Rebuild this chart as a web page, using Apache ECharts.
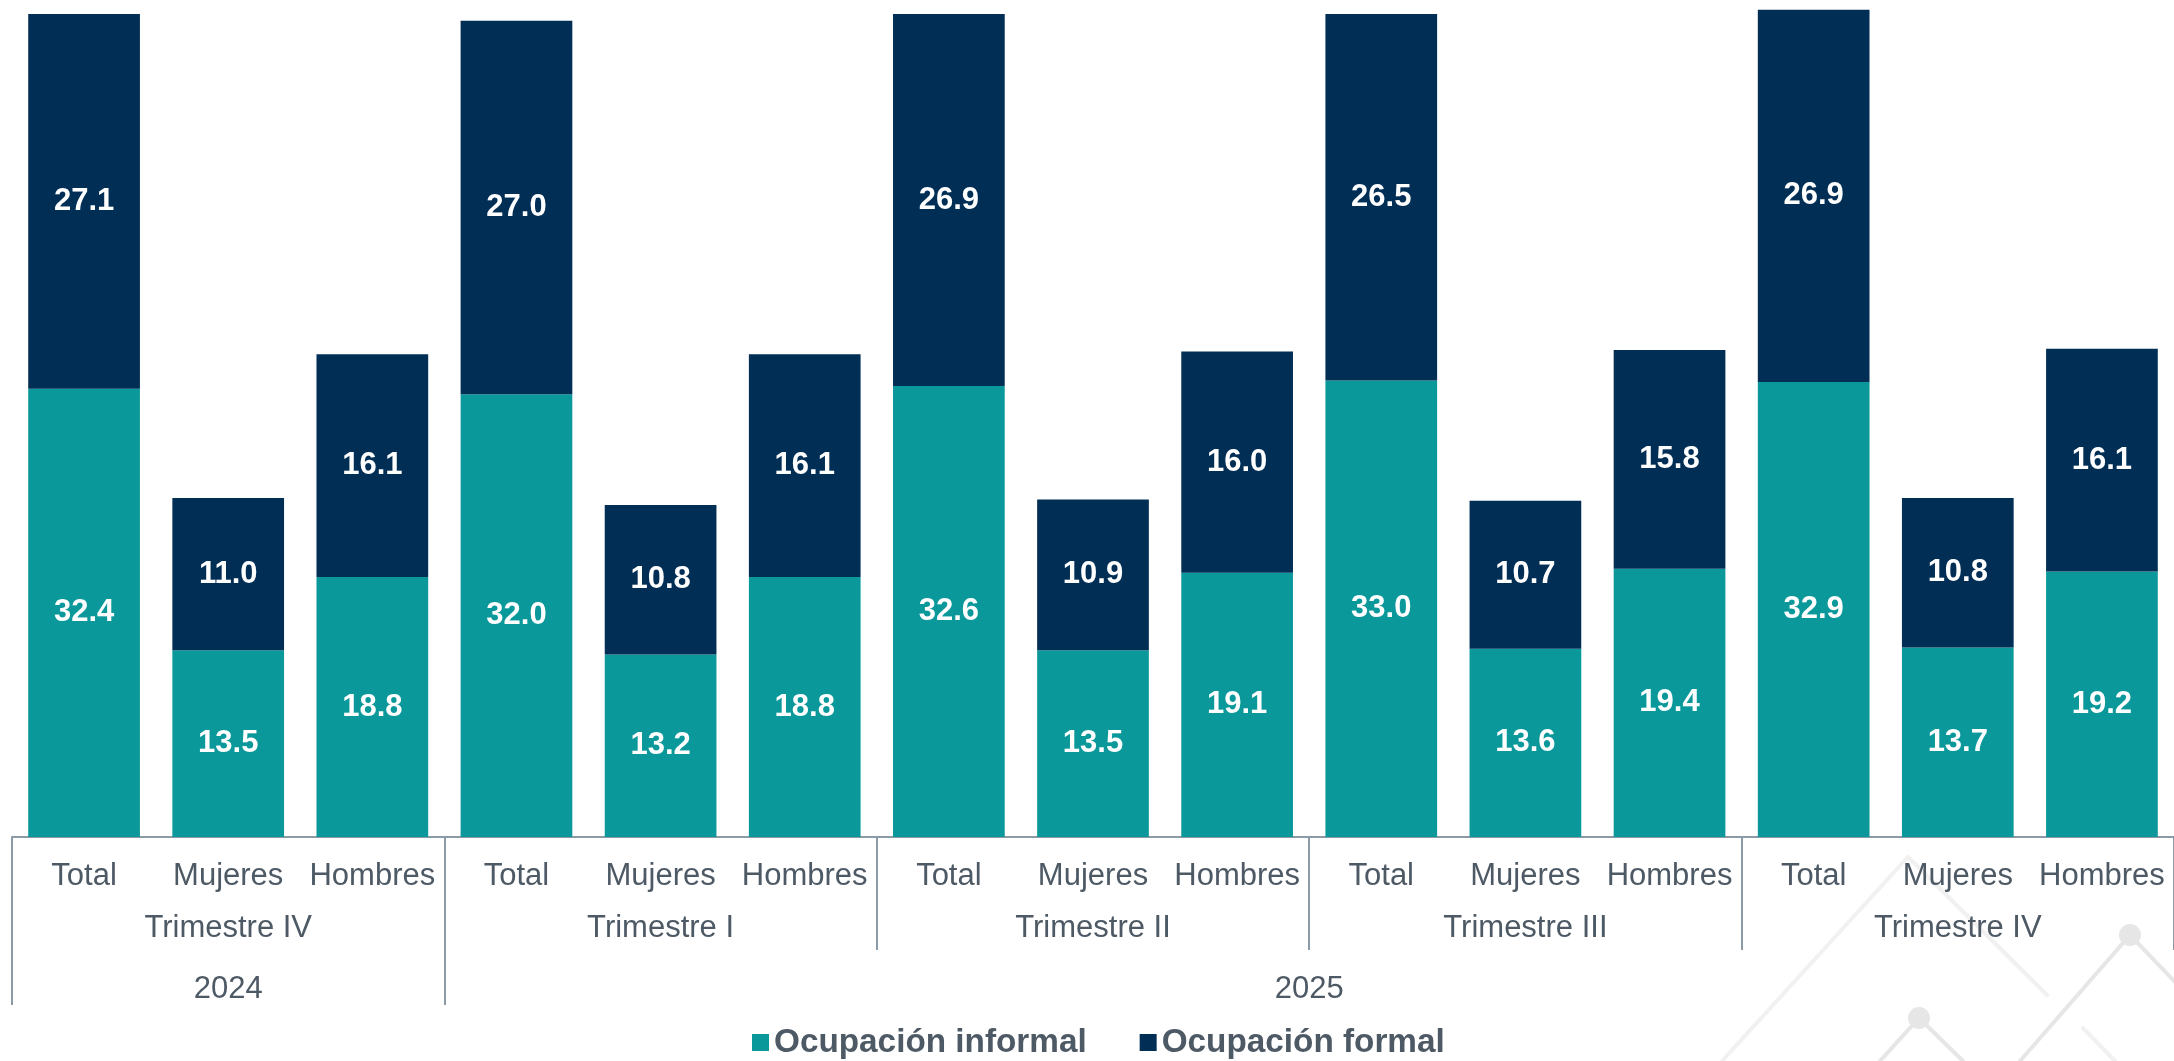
<!DOCTYPE html>
<html>
<head>
<meta charset="utf-8">
<script src="https://cdn.jsdelivr.net/npm/echarts@6/dist/echarts.min.js"></script>
<style>
html,body{margin:0;padding:0;background:#fff;}
#chart{width:2174px;height:1061px;}
</style>
</head>
<body>
<div id="chart"></div>
<script>
// ---- Data ----
const categories = ['Total','Mujeres','Hombres','Total','Mujeres','Hombres','Total','Mujeres','Hombres','Total','Mujeres','Hombres','Total','Mujeres','Hombres'];
const quarters = ['Trimestre IV','Trimestre I','Trimestre II','Trimestre III','Trimestre IV'];
const years = ['2024','2025'];
const yearCenters = [1.5, 9];     // in category units (0..15)
const yearBounds = [0, 3];        // group dividers for years
const informal = [32.4,13.5,18.8, 32.0,13.2,18.8, 32.6,13.5,19.1, 33.0,13.6,19.4, 32.9,13.7,19.2];
const formal   = [27.1,11.0,16.1, 27.0,10.8,16.1, 26.9,10.9,16.0, 26.5,10.7,15.8, 26.9,10.8,16.1];
const seriesNames = ['Ocupación informal','Ocupación formal'];

const FONT = '"Liberation Sans", Arial, sans-serif';
const TXT = '#4d5964';
const AX = '#8c9aa6';
const TEAL = '#0a989a';
const NAVY = '#002e55';

const chart = echarts.init(document.getElementById('chart'));

const wmFaint = '#f1f1f1', wmMid = '#e6e6e6';
const graphic = [
  {type:'polyline', z:-10, silent:true, shape:{points:[[1722,1061],[1908,857],[2047,995]]}, style:{stroke:wmFaint, lineWidth:4, fill:null, lineCap:'round'}},
  {type:'polyline', z:-10, silent:true, shape:{points:[[1880,1061],[1919,1018],[1963,1061]]}, style:{stroke:wmMid, lineWidth:4, fill:null, lineCap:'round'}},
  {type:'circle', z:-10, silent:true, shape:{cx:1919, cy:1018, r:11}, style:{fill:wmMid}},
  {type:'polyline', z:-10, silent:true, shape:{points:[[2020,1061],[2130,935],[2176,983]]}, style:{stroke:wmMid, lineWidth:4, fill:null, lineCap:'round'}},
  {type:'circle', z:-10, silent:true, shape:{cx:2130, cy:935, r:11}, style:{fill:wmMid}},
  {type:'polyline', z:-10, silent:true, shape:{points:[[2083,1028],[2115,1061]]}, style:{stroke:wmFaint, lineWidth:4, fill:null, lineCap:'round'}}
];

const option = {
  animation: false,
  backgroundColor: '#ffffff',
  textStyle: { fontFamily: FONT },
  graphic: graphic,
  legend: {
    data: seriesNames,
    top: 1021,
    left: 747,
    icon: 'rect',
    itemWidth: 17,
    itemHeight: 17,
    itemGap: 53,
    textStyle: { fontFamily: FONT, fontSize: 33.3, fontWeight: 'bold', color: TXT }
  },
  grid: { left: 12, top: 7, width: 2169, height: 830, containLabel: false },
  xAxis: [
    {
      type: 'category',
      data: categories,
      axisLine: { show: true, lineStyle: { color: AX, width: 2 } },
      axisTick: { show: false },
      axisLabel: { fontFamily: FONT, fontSize: 31, color: TXT, margin: 24, interval: 0 }
    },
    {
      type: 'category',
      data: quarters,
      position: 'bottom',
      axisLine: { show: false },
      axisTick: { show: true, length: 113, lineStyle: { color: AX, width: 2 } },
      axisLabel: { fontFamily: FONT, fontSize: 31, color: TXT, margin: 76, interval: 0 },
      splitLine: { show: false }
    },
    {
      type: 'value',
      min: 0,
      max: 15,
      position: 'bottom',
      axisLine: { show: false },
      splitLine: { show: false },
      axisTick: { show: true, customValues: yearBounds, length: 168, lineStyle: { color: AX, width: 2 } },
      axisLabel: {
        fontFamily: FONT, fontSize: 31, color: TXT, margin: 137,
        customValues: yearCenters,
        formatter: function (v) {
          const i = yearCenters.indexOf(v);
          return i >= 0 ? years[i] : '';
        }
      }
    }
  ],
  yAxis: { type: 'value', min: 0, max: 60, show: false, splitLine: { show: false } },
  series: [
    {
      name: seriesNames[0], type: 'bar', stack: 'a', data: informal,
      barCategoryGap: '22.5%',
      itemStyle: { color: TEAL },
      label: { show: true, position: 'inside', color: '#fff', fontFamily: FONT, fontWeight: 'bold', fontSize: 31,
        formatter: p => p.value.toFixed(1) }
    },
    {
      name: seriesNames[1], type: 'bar', stack: 'a', data: formal,
      barCategoryGap: '22.5%',
      itemStyle: { color: NAVY },
      label: { show: true, position: 'inside', color: '#fff', fontFamily: FONT, fontWeight: 'bold', fontSize: 31,
        formatter: p => p.value.toFixed(1) }
    }
  ]
};
chart.setOption(option);
</script>
</body>
</html>
